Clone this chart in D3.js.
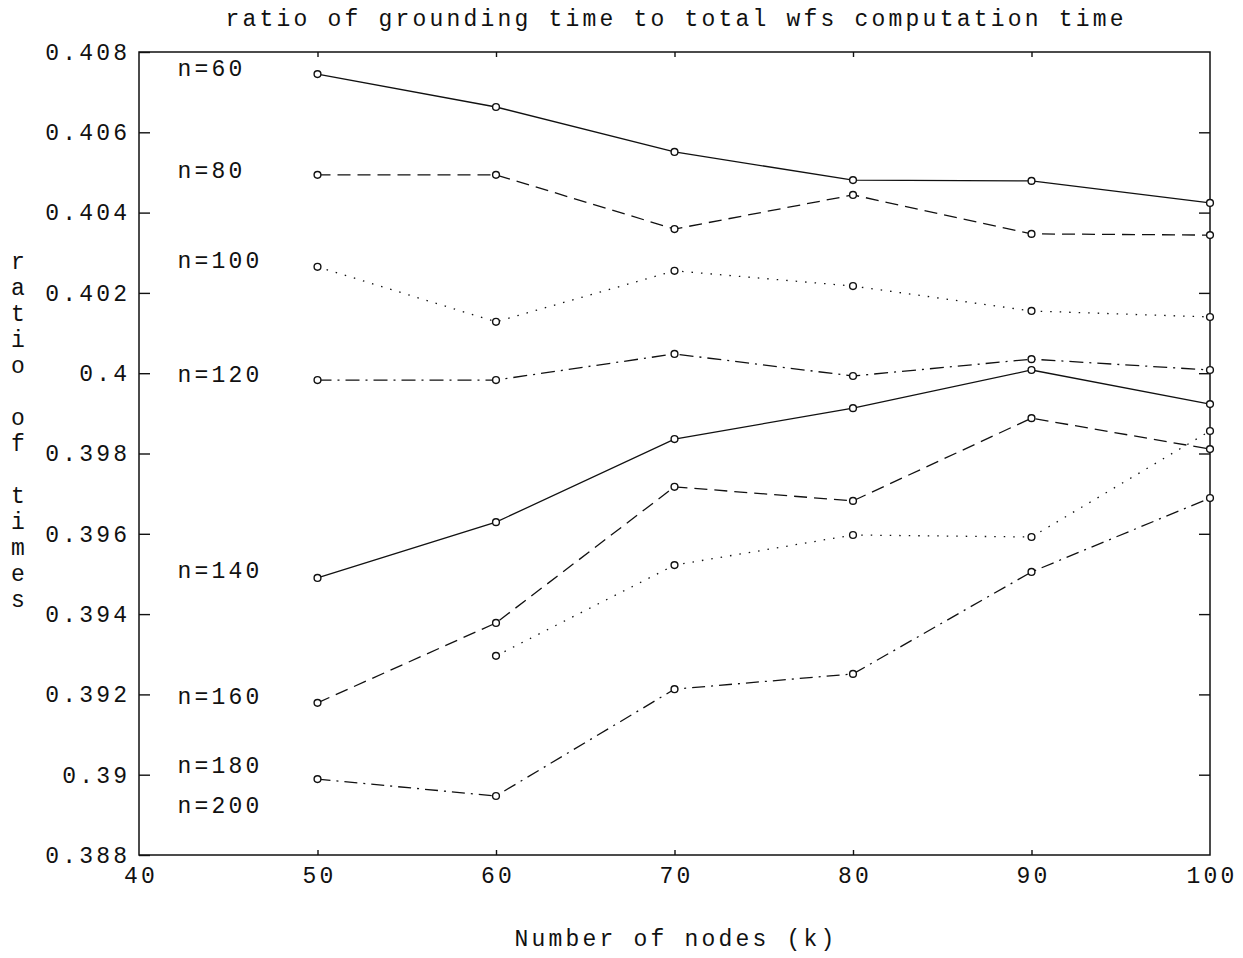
<!DOCTYPE html>
<html><head><meta charset="utf-8">
<script src="https://cdn.jsdelivr.net/npm/d3@7"></script>
<style>
body{margin:0;background:#fff}
text{font-family:"Liberation Mono","DejaVu Sans Mono",monospace;fill:#111}
</style>
</head><body>
<svg id="c" width="1243" height="958"></svg>
<script>
// ---- data ----
const nodes = [50, 60, 70, 80, 90, 100];
const xTicks = [40, 50, 60, 70, 80, 90, 100];
const xTickLabels = ["40", "50", "60", "70", "80", "90", "100"];
const yTicks = [0.388, 0.390, 0.392, 0.394, 0.396, 0.398, 0.400, 0.402, 0.404, 0.406, 0.408];
const yTickLabels = ["0.388", "0.39", "0.392", "0.394", "0.396", "0.398", "0.4", "0.402", "0.404", "0.406", "0.408"];

const n60  = [0.40745, 0.40663, 0.40551, 0.40481, 0.40479, 0.40424];
const n80  = [0.40494, 0.40494, 0.40359, 0.40444, 0.40347, 0.40344];
const n100 = [0.40265, 0.40128, 0.40255, 0.40217, 0.40155, 0.40140];
const n120 = [0.39983, 0.39983, 0.40048, 0.39993, 0.40035, 0.40008];
const n140 = [0.39490, 0.39629, 0.39836, 0.39913, 0.40008, 0.39923];
const n160 = [0.39179, 0.39378, 0.39717, 0.39682, 0.39888, 0.39811];
const n180 = [null, 0.39296, 0.39522, 0.39597, 0.39592, 0.39856];
const n200 = [0.38989, 0.38947, 0.39213, 0.39251, 0.39505, 0.39689];

const seriesLabels = ["n=60", "n=80", "n=100", "n=120", "n=140", "n=160", "n=180", "n=200"];
const labelX = 42.15;
const labelValues = [0.40755, 0.40502, 0.40278, 0.39994, 0.39505, 0.39191, 0.39020, 0.38920];

const title = "ratio of grounding time to total wfs computation time";
const xTitle = "Number of nodes (k)";
const yTitle = "ratio of times";

// ---- styles ----
const seriesValues = [n60, n80, n100, n120, n140, n160, n180, n200];
const dashes = [null, "13,7", "1.5,8", "14,6,2,6", null, "13,7", "1.5,8", "13,6,2,6"];

const svg = d3.select("#c");
const W = 1243, H = 958;
const m = {left: 139, right: 33, top: 52, bottom: 103};
const x = d3.scaleLinear().domain([40, 100]).range([m.left, W - m.right]);
const y = d3.scaleLinear().domain([0.388, 0.408]).range([H - m.bottom, m.top]);

const FS = 23, LS = 3.2;

// frame
svg.append("rect").attr("x", m.left).attr("y", m.top)
  .attr("width", x(100) - x(40)).attr("height", y(0.388) - y(0.408))
  .attr("fill", "none").attr("stroke", "#111").attr("stroke-width", 1.5);

// left axis
const gl = svg.append("g").attr("transform", `translate(${m.left},0)`)
  .call(d3.axisLeft(y).tickValues(yTicks).tickSize(-11).tickPadding(12)
    .tickFormat((d, i) => yTickLabels[i]));
gl.select(".domain").remove();
gl.selectAll("line").attr("stroke", "#111").attr("stroke-width", 1.4);
gl.selectAll("text").attr("font-size", FS).attr("letter-spacing", LS)
  .attr("font-family", "Liberation Mono").attr("dx", LS);
// right axis
const gr = svg.append("g").attr("transform", `translate(${W - m.right},0)`)
  .call(d3.axisRight(y).tickValues(yTicks.slice(1, -1)).tickSize(-11).tickFormat(""));
gr.select(".domain").remove();
gr.selectAll("line").attr("stroke", "#111").attr("stroke-width", 1.4);
// bottom axis
const gb = svg.append("g").attr("transform", `translate(0,${H - m.bottom})`)
  .call(d3.axisBottom(x).tickValues(xTicks).tickSize(-5).tickPadding(12)
    .tickFormat((d, i) => xTickLabels[i]));
gb.select(".domain").remove();
gb.selectAll("line").attr("stroke", "#111").attr("stroke-width", 1.4)
  .filter(d => d === 40 || d === 100).remove();
gb.selectAll("text").attr("font-size", FS).attr("letter-spacing", LS)
  .attr("font-family", "Liberation Mono").attr("dx", LS / 2);
// top axis
const gt = svg.append("g").attr("transform", `translate(0,${m.top})`)
  .call(d3.axisTop(x).tickValues(xTicks.slice(1, -1)).tickSize(-5).tickFormat(""));
gt.select(".domain").remove();
gt.selectAll("line").attr("stroke", "#111").attr("stroke-width", 1.4);

// series
const line = d3.line().defined(d => d[1] != null).x(d => x(d[0])).y(d => y(d[1]));
seriesValues.forEach((vals, i) => {
  const pts = nodes.map((n, j) => [n, vals[j]]);
  svg.append("path").datum(pts).attr("d", line)
    .attr("fill", "none").attr("stroke", "#111").attr("stroke-width", 1.3)
    .attr("stroke-dasharray", dashes[i]);
  svg.append("g").selectAll("circle").data(pts.filter(d => d[1] != null)).join("circle")
    .attr("cx", d => x(d[0])).attr("cy", d => y(d[1])).attr("r", 3.4)
    .attr("fill", "#fff").attr("stroke", "#111").attr("stroke-width", 1.4);
});

// annotations
seriesLabels.forEach((s, i) => {
  svg.append("text").attr("x", x(labelX)).attr("y", y(labelValues[i]))
    .attr("dominant-baseline", "central").attr("font-size", FS)
    .attr("letter-spacing", LS).text(s);
});

// titles
svg.append("text").attr("x", (x(40) + x(100)) / 2 + LS / 2).attr("y", 20)
  .attr("text-anchor", "middle").attr("dominant-baseline", "central")
  .attr("font-size", FS).attr("letter-spacing", LS).text(title);
svg.append("text").attr("x", (x(40) + x(100)) / 2 + LS / 2).attr("y", 940)
  .attr("text-anchor", "middle").attr("dominant-baseline", "central")
  .attr("font-size", FS).attr("letter-spacing", LS).text(xTitle);
const yt = svg.append("g");
yTitle.split("").forEach((ch, i) => {
  yt.append("text").attr("x", 18).attr("y", 263 + i * 26)
    .attr("text-anchor", "middle").attr("dominant-baseline", "central")
    .attr("font-size", FS).text(ch);
});
</script>
</body></html>
